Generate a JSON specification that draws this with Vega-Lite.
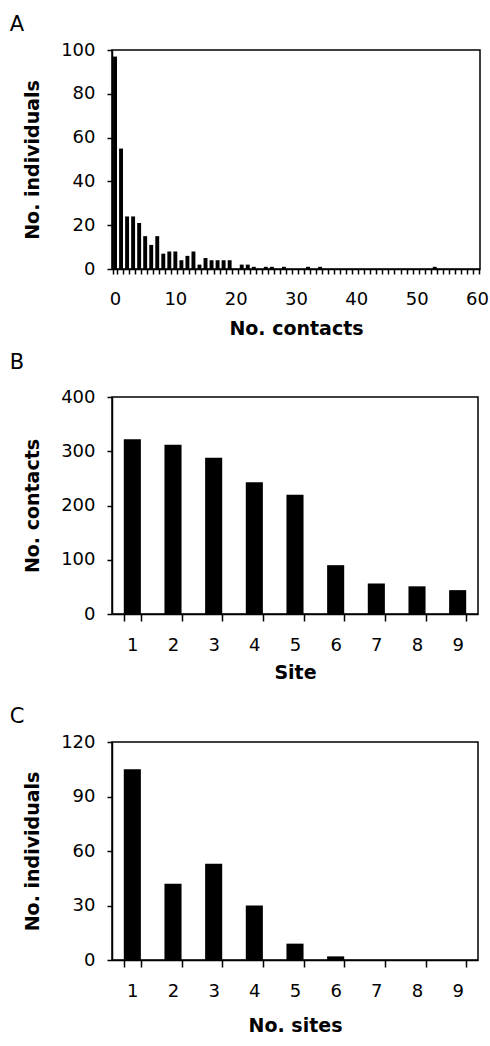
{
  "$schema": "https://vega.github.io/schema/vega-lite/v6.json",
  "padding": {"left": 8, "top": 13, "right": 8, "bottom": 5},
  "background": "white",
  "config": {
    "font": "DejaVu Sans",
    "view": {"stroke": "black", "strokeWidth": 1.5},
    "axis": {
      "labelFontSize": 18, "titleFontSize": 19, "titleFontWeight": "bold",
      "labelColor": "black", "titleColor": "black", "domainColor": "black", "tickColor": "black",
      "grid": false, "domainWidth": 1.5, "tickWidth": 1.5,
      "labelFont": "DejaVu Sans", "titleFont": "DejaVu Sans"
    },
    "axisY": {"tickSize": 5, "labelPadding": 12, "titlePadding": 18},
    "title": {"fontSize": 21, "fontWeight": "normal", "anchor": "start", "frame": "bounds", "color": "black", "font": "DejaVu Sans"}
  },
  "bounds": "flush",
  "spacing": 128,
  "vconcat": [
    {
      "title": {"text": "A", "dx": -14, "offset": 6},
      "width": 368, "height": 219,
      "data": {"values": [
        {"contacts": 0, "individuals": 97}, {"contacts": 1, "individuals": 55}, {"contacts": 2, "individuals": 24},
        {"contacts": 3, "individuals": 24}, {"contacts": 4, "individuals": 21}, {"contacts": 5, "individuals": 15},
        {"contacts": 6, "individuals": 11}, {"contacts": 7, "individuals": 15}, {"contacts": 8, "individuals": 7},
        {"contacts": 9, "individuals": 8}, {"contacts": 10, "individuals": 8}, {"contacts": 11, "individuals": 4},
        {"contacts": 12, "individuals": 6}, {"contacts": 13, "individuals": 8}, {"contacts": 14, "individuals": 2},
        {"contacts": 15, "individuals": 5}, {"contacts": 16, "individuals": 4}, {"contacts": 17, "individuals": 4},
        {"contacts": 18, "individuals": 4}, {"contacts": 19, "individuals": 4}, {"contacts": 20, "individuals": 0},
        {"contacts": 21, "individuals": 2}, {"contacts": 22, "individuals": 2}, {"contacts": 23, "individuals": 1},
        {"contacts": 24, "individuals": 0}, {"contacts": 25, "individuals": 1}, {"contacts": 26, "individuals": 1},
        {"contacts": 27, "individuals": 0}, {"contacts": 28, "individuals": 1}, {"contacts": 29, "individuals": 0},
        {"contacts": 30, "individuals": 0}, {"contacts": 31, "individuals": 0}, {"contacts": 32, "individuals": 1},
        {"contacts": 33, "individuals": 0}, {"contacts": 34, "individuals": 1}, {"contacts": 35, "individuals": 0},
        {"contacts": 36, "individuals": 0}, {"contacts": 37, "individuals": 0}, {"contacts": 38, "individuals": 0},
        {"contacts": 39, "individuals": 0}, {"contacts": 40, "individuals": 0}, {"contacts": 41, "individuals": 0},
        {"contacts": 42, "individuals": 0}, {"contacts": 43, "individuals": 0}, {"contacts": 44, "individuals": 0},
        {"contacts": 45, "individuals": 0}, {"contacts": 46, "individuals": 0}, {"contacts": 47, "individuals": 0},
        {"contacts": 48, "individuals": 0}, {"contacts": 49, "individuals": 0}, {"contacts": 50, "individuals": 0},
        {"contacts": 51, "individuals": 0}, {"contacts": 52, "individuals": 0}, {"contacts": 53, "individuals": 1},
        {"contacts": 54, "individuals": 0}, {"contacts": 55, "individuals": 0}, {"contacts": 56, "individuals": 0},
        {"contacts": 57, "individuals": 0}, {"contacts": 58, "individuals": 0}, {"contacts": 59, "individuals": 0},
        {"contacts": 60, "individuals": 0}
      ]},
      "mark": {"type": "bar", "color": "black"},
      "encoding": {
        "x": {"field": "contacts", "type": "ordinal", "sort": "ascending",
          "scale": {"paddingInner": 0.35, "paddingOuter": 0.175},
          "axis": {"title": "No. contacts", "labelAngle": 0, "labelExpr": "datum.value % 10 == 0 ? datum.label : ''",
            "tickBand": "extent", "tickSize": 5, "labelPadding": 16, "titlePadding": 11}},
        "y": {"field": "individuals", "type": "quantitative",
          "scale": {"domain": [0, 100], "nice": false},
          "axis": {"values": [0, 20, 40, 60, 80, 100], "title": "No. individuals"}}
      }
    },
    {
      "title": {"text": "B", "dx": -14, "offset": 15},
      "width": 366, "height": 217,
      "data": {"values": [
        {"site": 1, "contacts": 322}, {"site": 2, "contacts": 312}, {"site": 3, "contacts": 288},
        {"site": 4, "contacts": 243}, {"site": 5, "contacts": 220}, {"site": 6, "contacts": 90},
        {"site": 7, "contacts": 56}, {"site": 8, "contacts": 51}, {"site": 9, "contacts": 44}
      ]},
      "mark": {"type": "bar", "color": "black"},
      "encoding": {
        "x": {"field": "site", "type": "ordinal",
          "scale": {"paddingInner": 0.58, "paddingOuter": 0.29},
          "axis": {"title": "Site", "labelAngle": 0, "tickBand": "extent", "tickSize": 7, "labelPadding": 15, "titlePadding": 9}},
        "y": {"field": "contacts", "type": "quantitative",
          "scale": {"domain": [0, 400], "nice": false},
          "axis": {"values": [0, 100, 200, 300, 400], "title": "No. contacts"}}
      }
    },
    {
      "title": {"text": "C", "dx": -14, "offset": 6},
      "width": 366, "height": 218,
      "data": {"values": [
        {"sites": 1, "individuals": 105}, {"sites": 2, "individuals": 42}, {"sites": 3, "individuals": 53},
        {"sites": 4, "individuals": 30}, {"sites": 5, "individuals": 9}, {"sites": 6, "individuals": 2},
        {"sites": 7, "individuals": 0}, {"sites": 8, "individuals": 0}, {"sites": 9, "individuals": 0}
      ]},
      "mark": {"type": "bar", "color": "black"},
      "encoding": {
        "x": {"field": "sites", "type": "ordinal",
          "scale": {"paddingInner": 0.58, "paddingOuter": 0.29},
          "axis": {"title": "No. sites", "labelAngle": 0, "tickBand": "extent", "tickSize": 7, "labelPadding": 15, "titlePadding": 16}},
        "y": {"field": "individuals", "type": "quantitative",
          "scale": {"domain": [0, 120], "nice": false},
          "axis": {"values": [0, 30, 60, 90, 120], "title": "No. individuals"}}
      }
    }
  ]
}
